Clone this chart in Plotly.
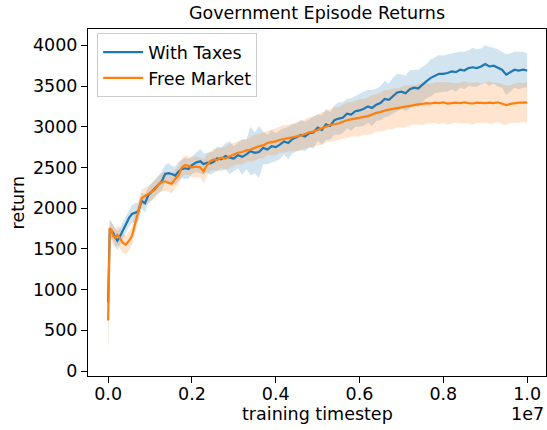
import plotly.graph_objects as go

# x positions in units of 1e7 training timesteps
x_frac = [0.0, 0.004, 0.008, 0.012, 0.017, 0.022, 0.027, 0.035, 0.042, 0.05, 0.057, 0.064, 0.072,
          0.08, 0.088, 0.096, 0.104, 0.112, 0.12, 0.128, 0.136, 0.144, 0.152, 0.16, 0.168, 0.176,
          0.184, 0.192, 0.2, 0.21, 0.22, 0.228, 0.236, 0.244, 0.252, 0.26, 0.27, 0.28, 0.29, 0.30,
          0.31, 0.32, 0.33, 0.34, 0.35, 0.36, 0.37, 0.38, 0.39, 0.40, 0.41, 0.42, 0.43, 0.44, 0.45,
          0.46, 0.47, 0.48, 0.49, 0.50, 0.51, 0.52, 0.53, 0.54, 0.55, 0.56, 0.57, 0.58, 0.59, 0.60,
          0.61, 0.62, 0.63, 0.64, 0.65, 0.66, 0.67, 0.68, 0.69, 0.70, 0.71, 0.72, 0.73, 0.74, 0.75,
          0.76, 0.77, 0.78, 0.79, 0.80, 0.81, 0.82, 0.83, 0.84, 0.85, 0.86, 0.87, 0.88, 0.89, 0.90,
          0.91, 0.92, 0.93, 0.94, 0.95, 0.96, 0.97, 0.98, 0.99, 1.00]

taxes_mean = [840, 1750, 1720, 1700, 1640, 1600, 1640, 1720, 1790, 1880, 1930, 1940, 1960,
              2090, 2060, 2160, 2200, 2250, 2290, 2330, 2420, 2430, 2420, 2400, 2450, 2480,
              2490, 2480, 2530, 2560, 2575, 2540, 2560, 2550, 2570, 2610, 2600, 2640, 2620, 2610,
              2650, 2630, 2660, 2700, 2680, 2690, 2740, 2720, 2760, 2750, 2780, 2820, 2800, 2850, 2870,
              2900, 2880, 2920, 2930, 2990, 2960, 3030, 3010, 3080, 3100, 3110, 3160, 3150, 3190, 3200,
              3220, 3250, 3230, 3270, 3290, 3340, 3330, 3380, 3420, 3430, 3410, 3460, 3480, 3470, 3520,
              3560, 3600, 3630, 3650, 3650, 3660, 3680, 3670, 3700, 3690, 3720, 3730, 3720, 3740, 3770,
              3740, 3750, 3720, 3700, 3640, 3670, 3700, 3690, 3700, 3690]

taxes_spread = [550, 110, 100, 100, 110, 120, 110, 110, 100, 100, 110, 120, 110,
                100, 110, 100, 110, 100, 110, 120, 110, 120, 100, 110, 120, 110,
                130, 120, 110, 120, 150, 130, 120, 140, 130, 150, 140, 160, 200, 150,
                160, 220, 180, 300, 250, 320, 200, 180, 200, 170, 180, 160, 200, 180, 170,
                190, 180, 170, 200, 160, 180, 190, 170, 180, 200, 190, 180, 200, 190, 200,
                210, 200, 220, 200, 210, 220, 200, 220, 230, 210, 220, 230, 220, 230, 220,
                210, 230, 220, 230, 220, 230, 220, 240, 220, 230, 220, 240, 230, 220, 230,
                240, 220, 230, 220, 250, 230, 220, 230, 220, 210]

market_mean = [620, 1755, 1730, 1660, 1634, 1670, 1640, 1575, 1550, 1600, 1660, 1810, 1950,
               2120, 2150, 2170, 2200, 2230, 2290, 2320, 2330, 2310, 2300, 2360, 2400, 2500,
               2530, 2520, 2500, 2510, 2500, 2450, 2530, 2580, 2600, 2590, 2620, 2610, 2640, 2660,
               2680, 2690, 2710, 2720, 2740, 2760, 2770, 2800, 2810, 2820, 2840, 2850, 2860, 2870, 2880,
               2890, 2910, 2930, 2940, 2960, 2980, 3000, 3020, 3030, 3040, 3060, 3080, 3090, 3100, 3110,
               3120, 3130, 3150, 3170, 3180, 3200, 3210, 3220, 3230, 3240, 3250, 3260, 3270, 3275, 3280,
               3290, 3285, 3295, 3290, 3300, 3285, 3290, 3295, 3290, 3300, 3290, 3285, 3295, 3290, 3290,
               3295, 3290, 3300, 3280, 3265, 3280, 3290, 3295, 3295, 3300]

market_spread = [480, 100, 110, 120, 110, 120, 130, 120, 110, 120, 110, 120, 110,
                 110, 100, 110, 100, 110, 100, 110, 120, 110, 120, 110, 120, 110,
                 120, 110, 120, 130, 120, 150, 130, 120, 130, 140, 130, 140, 150, 140,
                 140, 150, 140, 150, 160, 150, 160, 150, 160, 170, 160, 170, 160, 170, 180,
                 170, 180, 190, 180, 190, 200, 190, 200, 210, 200, 210, 220, 210, 220, 230,
                 220, 230, 240, 230, 240, 250, 240, 250, 240, 250, 260, 250, 240, 250, 260,
                 250, 240, 250, 260, 250, 260, 250, 240, 250, 260, 250, 260, 250, 240, 250,
                 260, 250, 240, 250, 240, 230, 240, 250, 240, 250]

x_ticks = [0, 2e6, 4e6, 6e6, 8e6, 1e7]
x_tick_labels = ["0.0", "0.2", "0.4", "0.6", "0.8", "1.0"]
y_ticks = [0, 500, 1000, 1500, 2000, 2500, 3000, 3500, 4000]

BLUE = "#1f77b4"
ORANGE = "#ff7f0e"
FONT = "DejaVu Sans"
FS = 17.5

x = [v * 1e7 for v in x_frac]

fig = go.Figure()


def add_band(mean, spread, fill):
    upper = [m + s for m, s in zip(mean, spread)]
    lower = [m - s for m, s in zip(mean, spread)]
    fig.add_trace(go.Scatter(x=x + x[::-1], y=upper + lower[::-1], fill="toself",
                             fillcolor=fill, line=dict(width=0), hoverinfo="skip",
                             showlegend=False))


add_band(taxes_mean, taxes_spread, "rgba(31,119,180,0.2)")
add_band(market_mean, market_spread, "rgba(255,127,14,0.2)")

fig.add_trace(go.Scatter(x=x, y=taxes_mean, mode="lines", name="With Taxes",
                         line=dict(color=BLUE, width=2.2)))
fig.add_trace(go.Scatter(x=x, y=market_mean, mode="lines", name="Free Market",
                         line=dict(color=ORANGE, width=2.2)))

fig.update_layout(
    width=547, height=430,
    margin=dict(l=88, r=1, t=29, b=54, autoexpand=False),
    paper_bgcolor="white", plot_bgcolor="white",
    font=dict(family=FONT, size=FS, color="black"),
    title=dict(text="Government Episode Returns", x=0.5795, xanchor="center",
               y=0.97, yanchor="middle", font=dict(size=FS)),
    showlegend=True,
    legend=dict(x=0.02, y=0.988, xanchor="left", yanchor="top",
                bgcolor="rgba(255,255,255,0.8)", bordercolor="#cccccc", borderwidth=1,
                font=dict(size=FS), tracegroupgap=0, itemwidth=40),
)
fig.update_xaxes(range=[-0.048e7, 1.045e7], tickvals=x_ticks, ticktext=x_tick_labels,
                 showgrid=False, zeroline=False, showline=True, mirror=True,
                 linecolor="black", linewidth=1, ticks="outside", ticklen=6,
                 tickcolor="black", automargin=False, ticklabelstandoff=-4)
fig.update_yaxes(range=[-61, 4200], tickvals=y_ticks,
                 showgrid=False, zeroline=False, showline=True, mirror=True,
                 linecolor="black", linewidth=1, ticks="outside", ticklen=6,
                 tickcolor="black", automargin=False)
fig.add_annotation(text="training timestep", xref="paper", yref="paper", x=0.5, y=-0.1095,
                   xanchor="center", yanchor="middle", showarrow=False, font=dict(size=FS))
fig.add_annotation(text="return", xref="paper", yref="paper", x=-0.153, y=0.5,
                   xanchor="center", yanchor="middle", textangle=-90, showarrow=False,
                   font=dict(size=FS))
fig.add_annotation(text="1e7", xref="paper", yref="paper", x=1.0, y=-0.1095,
                   xanchor="right", yanchor="middle", showarrow=False, font=dict(size=FS))

fig.write_html("out.html", config={"displayModeBar": False},
               post_script="document.body.style.margin='0';")
